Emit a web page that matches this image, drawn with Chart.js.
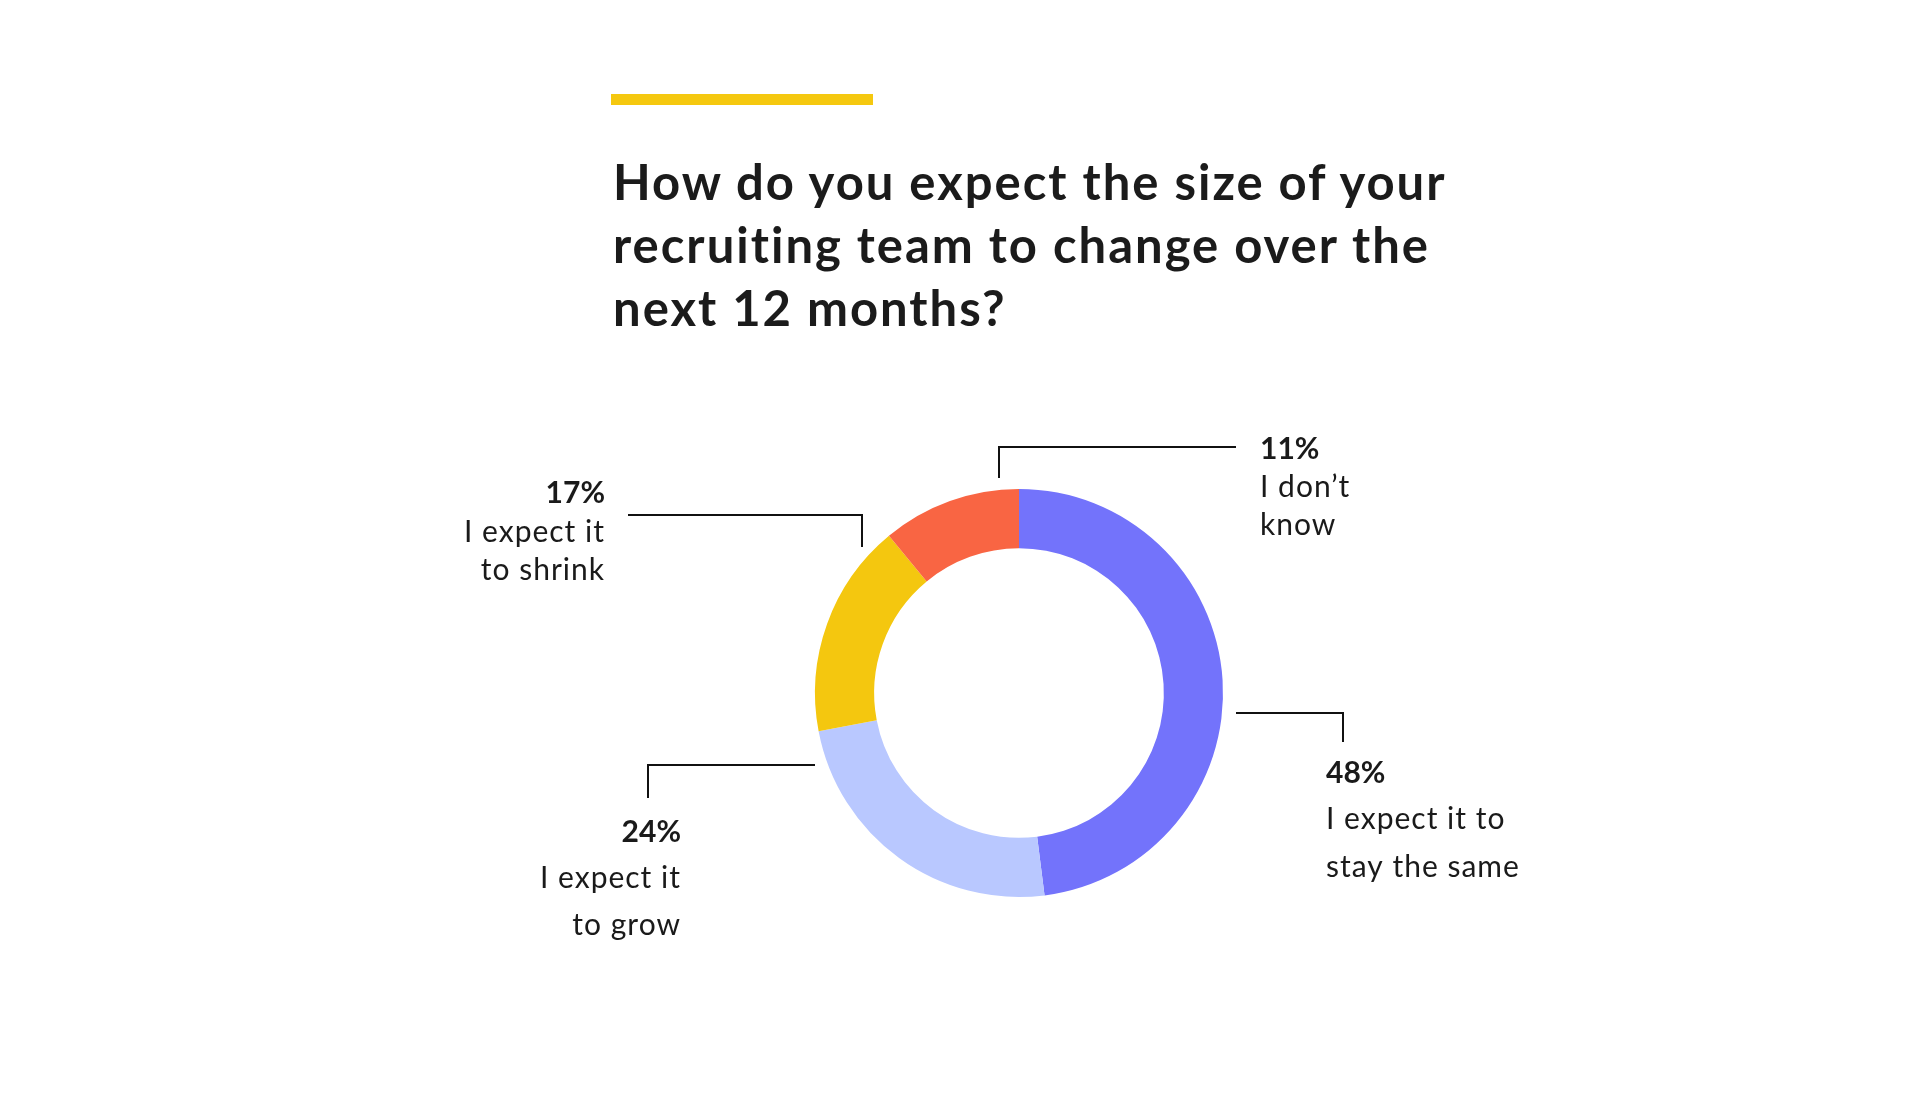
<!DOCTYPE html>
<html>
<head>
<meta charset="utf-8">
<script src="https://cdn.jsdelivr.net/npm/chart.js@4.4.0/dist/chart.umd.min.js"></script>
<style>
  html, body { margin: 0; padding: 0; background: #fff; }
  #wrap { position: relative; width: 1930px; height: 1098px; overflow: hidden; }
  #barra { position: absolute; left: 611px; top: 94px; width: 262px; height: 11px; background: #F5C80F; }
  #titulo { position: absolute; left: 613px; top: 150px; margin: 0; font-family: Lato, sans-serif; font-weight: 700;
            font-size: 49px; letter-spacing: 2px; line-height: 63px; color: #1b1b1b; white-space: nowrap; }
  #grafica { position: absolute; left: 0; top: 0; }
</style>
</head>
<body>
<div id="wrap">
  <div id="barra"></div>
  <h1 id="titulo">How do you expect the size of your<br>recruiting team to change over the<br>next 12 months?</h1>
  <canvas id="grafica" width="1930" height="1098"></canvas>
</div>
<script>
// Datos de la grafica
const categorias = ["I expect it to stay the same", "I expect it to grow", "I expect it to shrink", "I don’t know"];
const valores = [48, 24, 17, 11];
const colores = ["#7373FB", "#B9C8FF", "#F4C70F", "#F96543"];
const etiquetas = [["I expect it to", "stay the same"], ["I expect it", "to grow"], ["I expect it", "to shrink"], ["I don’t", "know"]];

// Posicion de las guias, relativa al centro de la dona
const guias = [
    { linea: [[217, 20], [324, 20], [324, 49]], x: 307, y: [90, 136, 184], align: "left" },
    { linea: [[-204, 72], [-371, 72], [-371, 105]], x: -338, y: [149, 195, 242], align: "right" },
    { linea: [[-157, -146], [-157, -178], [-391, -178]], x: -414, y: [-190, -151, -113], align: "right" },
    { linea: [[-20, -215], [-20, -246], [217, -246]], x: 241, y: [-234, -196, -158], align: "left" }
];

// Dibuja las lineas y los textos de cada rebanada
const pluginEtiquetas = {
    id: "etiquetas",
    afterDraw(chart) {
        const ctx = chart.ctx;
        const arco = chart.getDatasetMeta(0).data[0];
        const cx = arco.x, cy = arco.y;
        ctx.save();
        guias.forEach((g, i) => {
            ctx.beginPath();
            ctx.strokeStyle = "#111";
            ctx.lineWidth = 2;
            g.linea.forEach((p, j) => {
                if (j === 0) ctx.moveTo(cx + p[0], cy + p[1]);
                else ctx.lineTo(cx + p[0], cy + p[1]);
            });
            ctx.stroke();

            ctx.textAlign = g.align;
            ctx.textBaseline = "alphabetic";
            ctx.fillStyle = "#1a1a1a";
            ctx.letterSpacing = "0px";
            ctx.font = "700 30px Lato";
            ctx.fillText(valores[i] + "%", cx + g.x, cy + g.y[0]);
            ctx.letterSpacing = "1px";
            ctx.font = "400 30px Lato";
            ctx.fillText(etiquetas[i][0], cx + g.x, cy + g.y[1]);
            ctx.fillText(etiquetas[i][1], cx + g.x, cy + g.y[2]);
        });
        ctx.restore();
    }
};

new Chart(document.getElementById("grafica"), {
    type: "doughnut",
    data: {
        labels: categorias,
        datasets: [{
            data: valores,
            backgroundColor: colores,
            borderWidth: 0
        }]
    },
    options: {
        responsive: false,
        animation: false,
        cutout: "71%",
        layout: { padding: { left: 815, right: 707, top: 489, bottom: 201 } },
        plugins: {
            legend: { display: false },
            tooltip: { enabled: false }
        }
    },
    plugins: [pluginEtiquetas]
});
</script>
</body>
</html>
